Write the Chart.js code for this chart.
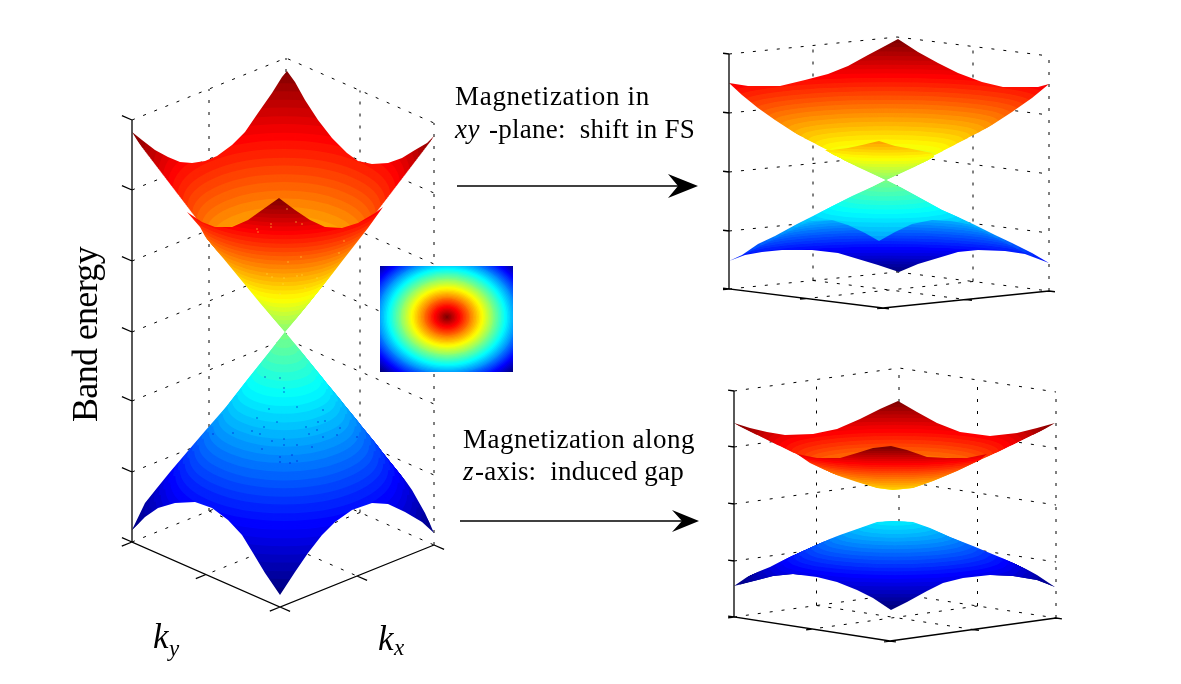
<!DOCTYPE html>
<html>
<head>
<meta charset="utf-8">
<title>Band energy</title>
<script src="https://cdn.jsdelivr.net/npm/chart.js@4"></script>
<style>
  html, body { margin: 0; padding: 0; background: #fff; }
  canvas { display: block; }
</style>
</head>
<body>
<canvas id="myChart" width="1181" height="684"></canvas>
<script>

// big panel, upper cone
const bigUpBack = [[132,132],[142,140],[155,150],[168,157],[180,162],[192,163],[205,161],[217,156],[232,145],[245,132],[258,113],[272,93],[282,77],[287,71],[295,82],[305,100],[318,120],[332,138],[347,153],[358,161],[372,164],[388,163],[402,158],[415,150],[427,143],[434,136],[422,158],[408,177],[395,195],[382,212],[368,228],[343,260],[310,303],[285,332],[260,303],[223,258],[207,240],[200,227],[185,210],[172,192],[158,173],[145,153]];
const bigUpFront = [[285,332],[260,303],[223,258],[207,240],[200,227],[187,212],[202,222],[215,227],[232,227],[248,220],[262,210],[279,198],[295,210],[310,220],[325,227],[342,228],[358,223],[375,213],[383,207],[368,228],[343,260],[310,303]];
// big panel, lower cone
const bigDown = [[285,332],[267,355],[247,380],[226,407],[205,431],[187,452],[170,472],[157,488],[145,503],[132,530],[145,517],[158,508],[175,503],[195,502],[212,508],[228,520],[242,535],[253,553],[265,573],[280,595],[295,572],[308,553],[322,535],[335,522],[352,510],[372,503],[388,504],[405,512],[422,522],[434,533],[425,513],[412,490],[398,470],[380,447],[358,420],[333,390],[307,358]];
const bigDownSpecks = [[265,377],[280,378],[284,388],[284,392],[269,409],[297,407],[323,410],[257,418],[277,422],[264,427],[318,422],[325,421],[306,427],[317,430],[340,428],[337,435],[252,431],[260,434],[309,434],[323,437],[357,437],[272,441],[284,439],[284,445],[297,445],[262,449],[312,447],[280,457],[292,455],[290,463],[297,461],[280,462],[233,433],[213,434]];
const bigUpSpecks = [[257,229],[271,224],[271,227],[287,209],[296,222],[302,224],[258,232],[344,241],[339,253],[301,257],[288,262],[267,274],[272,277],[284,278],[297,276],[302,275],[317,278],[283,284],[305,288],[280,294]];

// xy-plane panel
const shiftUpBack = [[729,83],[748,86],[780,86],[805,80],[828,74],[848,66],[868,55],[885,46],[898,39],[918,52],[938,63],[958,73],[982,82],[1003,87],[1038,87],[1049,84],[1032,98],[1012,112],[992,125],[972,138],[952,148],[932,159],[886,180],[838,158],[815,147],[795,133],[775,120],[758,108],[742,95]];
const shiftUpFront = [[886,180],[838,158],[825,150],[832,150],[848,148],[862,145],[879,141],[895,146],[912,149],[932,153],[935,158],[932,159]];
const shiftDownBack = [[729,261],[742,255],[758,244],[775,236],[797,224],[813,216],[832,206],[852,196],[872,187],[886,180],[902,188],[922,199],[942,210],[958,217],[975,225],[995,235],[1012,243],[1032,253],[1049,263],[1025,254],[1005,251],[978,250],[958,252],[938,258],[918,264],[899,272],[878,265],[858,259],[838,253],[812,250],[782,250],[762,252],[745,255]];
const shiftDownFront = [[886,180],[872,187],[852,196],[832,206],[813,216],[797,224],[812,221],[832,220],[848,225],[865,233],[879,241],[895,232],[912,224],[932,220],[952,221],[973,225],[958,217],[942,210],[922,199],[902,188]];

// z-axis panel
const gapUpBack = [[734,423],[750,428],[767,432],[785,435],[813,434],[837,429],[860,419],[880,409],[898,401],[917,412],[937,423],[960,432],[990,436],[1017,433],[1037,428],[1055,423],[1040,432],[1023,440],[1003,450],[980,460],[957,471],[933,481],[913,488],[893,490],[877,488],[857,482],[833,474],[810,463],[783,452],[763,442],[747,432]];
const gapUpFront = [[797,454],[817,458],[840,458],[857,453],[873,448],[891,446],[907,450],[927,457],[947,458],[967,458],[987,454],[980,460],[957,471],[933,481],[913,488],[893,490],[877,488],[857,482],[833,474],[810,463]];
const gapDown = [[734,586],[750,575],[770,567],[793,555],[817,544],[840,535],[860,528],[877,522],[893,521],[913,522],[930,528],[950,537],[973,546],[997,556],[1017,564],[1037,575],[1055,587],[1037,580],[1013,576],[990,575],[963,578],[943,583],[927,591],[907,602],[891,610],[873,598],[857,590],[837,582],[817,577],[793,574],[773,576],[750,582]];

// inset map and arrows
const insetBox = [[380,266],[513,266],[513,372],[380,372]];
const arrowShafts = [[[457,186],[682,186]],[[460,521],[684,521]]];
const arrowHeads = [[[698,186],[668,174],[678,186],[668,198]],[[699,521],[672,510],[682,521],[672,532]]];

// box corners on the floor of each panel: left, back, right, front
const bigFloor = [[132,542],[286,480],[434,545],[280,607]];
const shiftFloor = [[729,289],[897,272],[1049,291],[883,308]];
const gapFloor = [[734,617],[899,594],[1056,618],[890,641]];
// z tick heights on the left upright
const bigZTicks = [120,190,261,332,401,472,542];
const shiftZTicks = [54,113,172,231,289];
const gapZTicks = [391,447,504,561,617];

const jet = (t) => {
  const c = (v) => Math.round(255 * Math.max(0, Math.min(1, v)));
  return `rgb(${c(1.5 - Math.abs(4 * t - 3))},${c(1.5 - Math.abs(4 * t - 2))},${c(1.5 - Math.abs(4 * t - 1))})`;
};
const band = (t) => jet(Math.floor(Math.max(0, Math.min(1, t)) * 63.99) / 63);

// camera of each panel: where the Dirac point sits, how steep, how flat
const bigView = { cx: 284, midY: 332, k: 1.31, flat: 0.42, rhoMax: 153, gap: 0 };
const shiftView = { cx: 886, midY: 180, k: 0.52, flat: 0.11, rhoMax: 223, gap: 0 };
const gapView = { cx: 895, midY: 505.5, k: 0.503, flat: 0.14, rhoMax: 160, gap: 30.8 };

// fill style of a wall: the iso-energy rings as a pattern, level with the canvas
const ringFill = (chart, view, up, start, wall) => {
  const sx = chart.scales.x, sy = chart.scales.y;
  const off = document.createElement('canvas');
  off.width = chart.width;
  off.height = chart.height;
  const g = off.getContext('2d');
  g.lineWidth = 2.5;
  const z0 = view.k * view.gap;
  const zMax = view.k * Math.hypot(view.rhoMax, view.gap);
  const total = Math.ceil(view.rhoMax * 1.08 * 2);
  for (let i = 0; i <= total; i++) {
    const rho = (wall === 'back' ? total - i : i) / 2;
    const z = view.k * Math.hypot(rho, view.gap);
    const f = (z - z0) / (zMax - z0);
    const dir = up ? 1 : -1;
    g.strokeStyle = band(up ? start + (1 - start) * f : start - start * f);
    g.beginPath();
    g.ellipse(sx.getPixelForValue(view.cx), sy.getPixelForValue(view.midY - dir * z), Math.max(rho, 0.1), Math.max(rho * view.flat, 0.1), 0,
      wall === 'back' ? Math.PI : 0, wall === 'back' ? 2 * Math.PI : Math.PI);
    g.stroke();
  }
  return g.createPattern(off, 'no-repeat');
};

const insetFill = (chart) => {
  const off = document.createElement('canvas');
  off.width = chart.width;
  off.height = chart.height;
  const g = off.getContext('2d');
  for (let u = 100; u >= 0; u -= 0.5) {
    g.fillStyle = band(1 - u / 94);
    g.beginPath();
    g.ellipse(chart.scales.x.getPixelForValue(447), chart.scales.y.getPixelForValue(317), u + 0.1, u / 1.22 + 0.1, 0, 0, 2 * Math.PI);
    g.fill();
  }
  return g.createPattern(off, 'no-repeat');
};

const toPoints = (pts) => pts.map((p) => (p ? { x: p[0], y: p[1] } : { x: null, y: null }));
const lerp = (a, b, f) => [a[0] + (b[0] - a[0]) * f, a[1] + (b[1] - a[1]) * f];
const along = (p, from, to, len) => {
  const d = Math.hypot(to[0] - from[0], to[1] - from[1]);
  return [p[0] + (to[0] - from[0]) / d * len, p[1] + (to[1] - from[1]) / d * len];
};

// dotted box behind the surface
const boxDots = (floor, zTicks) => {
  const [left, back, right, front] = floor;
  const rise = zTicks[zTicks.length - 1] - zTicks[0];
  const path = [];
  zTicks.forEach((y) => {
    const up = left[1] - y;
    path.push([left[0], y], [back[0], back[1] - up], [right[0], right[1] - up], null);
  });
  [lerp(left, back, 0.5), back, lerp(back, right, 0.5), right].forEach((p) => {
    path.push([p[0], p[1]], [p[0], p[1] - rise], null);
  });
  path.push(lerp(left, back, 0.5), lerp(front, right, 0.5), null);
  path.push(lerp(back, right, 0.5), lerp(left, front, 0.5), null);
  return path;
};

// solid axes and their ticks
const boxAxes = (floor, zTicks, tick) => {
  const [left, , right, front] = floor;
  const path = [[left[0], zTicks[0]], left, front, right, null];
  zTicks.forEach((y) => path.push([left[0], y], along([left[0], y], front, left, tick), null));
  [left, lerp(left, front, 0.5), front].forEach((p) => path.push(p, along(p, right, front, tick), null));
  [front, lerp(front, right, 0.5), right].forEach((p) => path.push(p, along(p, left, front, tick), null));
  return path;
};

const datasets = [];
const addLine = (pts, width, dash) => datasets.push({
  data: toPoints(pts), showLine: true, borderColor: '#000', borderWidth: width, borderDash: dash,
  pointRadius: 0, tension: 0, fill: false
});
const addWall = (pts, background) => datasets.push({
  data: toPoints(pts), showLine: true, borderWidth: 0, pointRadius: 0, tension: 0,
  fill: 'shape', backgroundColor: background
});
// ring fills need the laid out scales, so they are attached after the first update
const rings = [];
const addRings = (pts, view, up, start, wall) => {
  addWall(pts, '#fff');
  rings.push([datasets[datasets.length - 1], view, up, start, wall]);
};
const addSpecks = (pts, color) => datasets.push({
  data: toPoints(pts), showLine: false, pointRadius: 0.8, pointStyle: 'rect',
  pointBackgroundColor: color, pointBorderWidth: 0
});

addLine(boxDots(bigFloor, bigZTicks), 1, [3, 9]);
addLine(boxDots(shiftFloor, shiftZTicks), 1, [3, 9]);
addLine(boxDots(gapFloor, gapZTicks), 1, [3, 9]);

addRings(bigDown, bigView, false, 0.5, 'back');
addRings(bigDown, bigView, false, 0.5, 'front');
addSpecks(bigDownSpecks, '#0000c8');
addRings(bigUpBack, bigView, true, 0.5, 'back');
addRings(bigUpFront, bigView, true, 0.5, 'front');
addSpecks(bigUpSpecks, '#ffe040');

addRings(shiftDownBack, shiftView, false, 0.5, 'back');
addRings(shiftDownFront, shiftView, false, 0.5, 'front');
addRings(shiftUpBack, shiftView, true, 0.5, 'back');
addRings(shiftUpFront, shiftView, true, 0.5, 'front');

addRings(gapDown, gapView, false, 0.36, 'back');
addRings(gapDown, gapView, false, 0.36, 'front');
addRings(gapUpBack, gapView, true, 0.63, 'back');
addRings(gapUpFront, gapView, true, 0.63, 'front');

addWall(insetBox, '#fff');
const insetSet = datasets[datasets.length - 1];

addLine(boxAxes(bigFloor, bigZTicks, 11), 1.3);
addLine(boxAxes(shiftFloor, shiftZTicks, 6), 1.3);
addLine(boxAxes(gapFloor, gapZTicks, 6), 1.3);

arrowShafts.forEach((s) => addLine(s, 1.3));
arrowHeads.forEach((h) => addWall(h, '#000'));

// later datasets go on top
datasets.forEach((d, i) => { d.order = -i; });

const SERIF = '"Liberation Serif", serif';
const notes = [
  { text: 'Magnetization in', x: 455, y: 105, w: 195, font: `27px ${SERIF}` },
  { text: 'xy', x: 455, y: 138, w: 25, font: `italic 27px ${SERIF}` },
  { text: '-plane:  shift in FS', x: 489, y: 138, w: 206, font: `27px ${SERIF}` },
  { text: 'Magnetization along', x: 463, y: 448, w: 232, font: `27px ${SERIF}` },
  { text: 'z', x: 463, y: 480, w: 11, font: `italic 27px ${SERIF}` },
  { text: '-axis:  induced gap', x: 475, y: 480, w: 209, font: `27px ${SERIF}` },
  { text: 'k', x: 153, y: 648, w: 17, font: `italic 35px ${SERIF}` },
  { text: 'y', x: 169, y: 656, w: 12, font: `italic 23px ${SERIF}` },
  { text: 'k', x: 378, y: 650, w: 17, font: `italic 35px ${SERIF}` },
  { text: 'x', x: 394, y: 655, w: 12, font: `italic 23px ${SERIF}` },
  { text: 'Band energy', x: 97, y: 422, w: 175, font: `36px ${SERIF}`, turn: true }
];

const notesPlugin = {
  id: 'notes',
  afterDraw(chart) {
    const { ctx, scales } = chart;
    notes.forEach((n) => {
      ctx.save();
      ctx.fillStyle = '#000';
      ctx.font = n.font;
      ctx.textBaseline = 'alphabetic';
      ctx.letterSpacing = '0px';
      const spare = n.w - ctx.measureText(n.text).width;
      ctx.letterSpacing = `${spare / n.text.length}px`;
      ctx.translate(scales.x.getPixelForValue(n.x), scales.y.getPixelForValue(n.y));
      if (n.turn) ctx.rotate(-Math.PI / 2);
      ctx.fillText(n.text, 0, 0);
      ctx.restore();
    });
  }
};

const chart = new Chart(document.getElementById('myChart'), {
  type: 'scatter',
  data: { datasets: datasets },
  plugins: [notesPlugin],
  options: {
    responsive: false,
    animation: false,
    layout: { padding: 0, autoPadding: false },
    plugins: { legend: { display: false }, tooltip: { enabled: false } },
    scales: {
      x: { type: 'linear', display: false, min: 0, max: 1181 },
      y: { type: 'linear', display: false, min: 0, max: 684, reverse: true }
    }
  }
});

rings.forEach(([set, view, up, start, wall]) => {
  set.backgroundColor = ringFill(chart, view, up, start, wall);
});
insetSet.backgroundColor = insetFill(chart);
chart.update();
</script>
</body>
</html>
